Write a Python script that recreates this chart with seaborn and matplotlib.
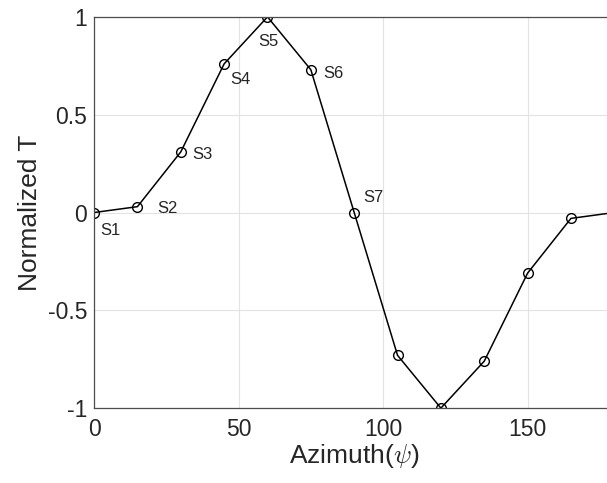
import seaborn as sns
from matplotlib import pyplot as plt
import pandas as pd

azimuth = [0, 15, 30, 45, 60, 75, 90, 105, 120, 135, 150, 165, 180]
norm_t = [0, 0.03, 0.31, 0.76, 1.0, 0.73, 0, -0.73, -1.0, -0.76, -0.31, -0.03, 0]
labels = ['S1', 'S2', 'S3', 'S4', 'S5', 'S6', 'S7']

df = pd.DataFrame({'az': azimuth, 't': norm_t})

sns.set_style('white')
plt.rcParams['font.family'] = ['Liberation Sans', 'DejaVu Sans']
plt.rcParams['mathtext.fontset'] = 'cm'

fig = plt.figure(figsize=(6.07, 4.83), dpi=100)
ax = fig.add_axes([0.155, 0.155, 0.857, 0.81])

sns.lineplot(x='az', y='t', data=df, ax=ax, color='black', linewidth=1.1,
             marker='o', markersize=7, markerfacecolor='none',
             markeredgecolor='black', markeredgewidth=1.0)

# label offsets in pixels from each point
offs = [(6, -18), (20, -2), (11, -3), (6, -16), (-9, -25), (12, -4), (9, 15)]
for i, lab in enumerate(labels):
    ax.annotate(lab, (azimuth[i], norm_t[i]), xytext=offs[i],
                textcoords='offset pixels', fontsize=12, color='#262626',
                ha='left', va='center')

ax.set_xlim(0, 180)
ax.set_ylim(-1, 1)
ax.set_xticks([0, 50, 100, 150])
ax.set_yticks([-1, -0.5, 0, 0.5, 1])
ax.set_yticklabels(['-1', '-0.5', '0', '0.5', '1'])
ax.grid(True, color='#e3e3e3', linewidth=0.8)
ax.set_axisbelow(True)
for s in ax.spines.values():
    s.set_color('#4d4d4d')
    s.set_linewidth(0.9)
ax.tick_params(direction='in', length=4, color='#4d4d4d', labelsize=16.5,
               labelcolor='#262626')
ax.tick_params(axis='x', pad=7)
ax.tick_params(axis='y', pad=5)
ax.set_xlabel(r'Azimuth($\psi$)', fontsize=19, color='#262626', labelpad=1)
ax.set_ylabel('Normalized T', fontsize=19, color='#262626', labelpad=4)

fig.savefig('out.png', dpi=100)
